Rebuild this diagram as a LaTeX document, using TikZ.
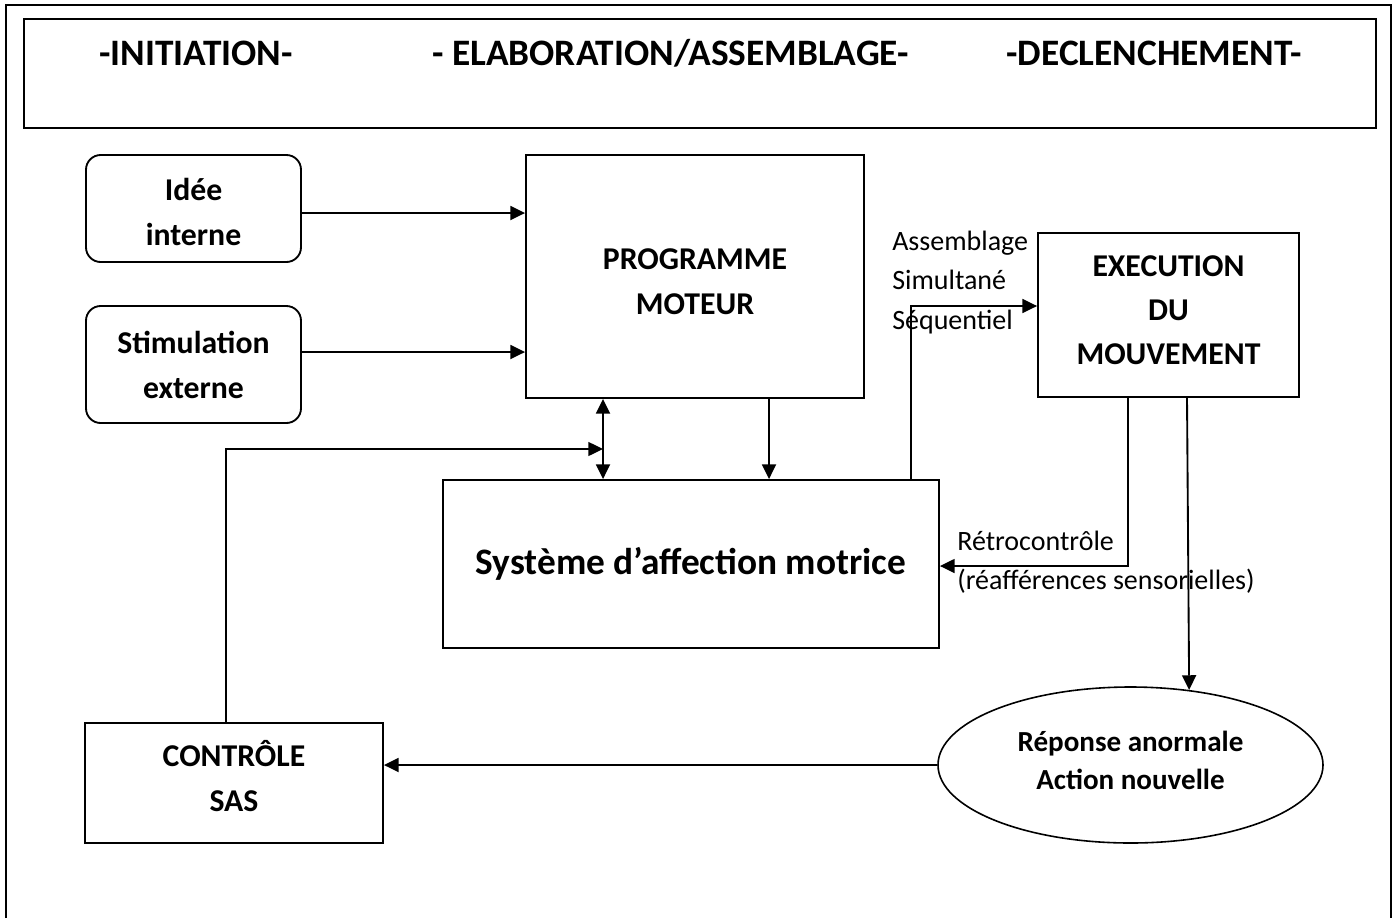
\documentclass[tikz,border=0pt]{standalone}
\usepackage{fontspec}
\setmainfont{Carlito}
\usetikzlibrary{arrows.meta,shapes.geometric}
\begin{document}
\begin{tikzpicture}[x=0.75pt,y=-0.75pt,
  line/.style={line width=1.4pt},
  arr/.style={line width=1.4pt,-{Triangle[length=11pt,width=10.5pt]}},
  arrthin/.style={line width=1.0pt,-{Triangle[length=11pt,width=10.5pt]}},
  darr/.style={line width=1.4pt,{Triangle[length=11pt,width=10.5pt]}-{Triangle[length=11pt,width=10.5pt]}},
  box/.style={draw, line width=1.4pt, inner sep=0pt},
  roundbox/.style={box, rounded corners=11pt},
  boxtext/.style={align=center, inner sep=0pt, font=\fontsize{23.8}{33.75}\selectfont\bfseries},
  title/.style={font=\fontsize{28}{32}\selectfont\bfseries, inner sep=0pt},
  note/.style={font=\fontsize{21}{29.6}\selectfont, align=left, inner sep=0pt, anchor=west},
]
\useasboundingbox (0,0) rectangle (1395,918);

% page frame and header band
\draw[line] (6,918) -- (6,5) -- (1391,5) -- (1391,918);
\node[draw, line width=1.8pt, minimum width=1014pt, minimum height=81.75pt, inner sep=0pt]
  (header) at (700,73.5) {};
\node[title] (t1) at (196,53) {-INITIATION-};
\node[title] (t2) at (670.5,53) {- ELABORATION/ASSEMBLAGE-};
\node[title] (t3) at (1154,53) {-DECLENCHEMENT-};

% boxes
\node[roundbox, minimum width=161.25pt, minimum height=80.25pt] (idee) at (193.5,208.5) {};
\node[roundbox, minimum width=161.25pt, minimum height=87.75pt] (stim) at (193.5,364.5) {};
\node[box, minimum width=253.5pt, minimum height=182.25pt] (prog) at (695,276.5) {};
\node[box, minimum width=195.75pt, minimum height=123pt] (exec) at (1168.5,315) {};
\node[box, minimum width=372pt, minimum height=126pt] (sys) at (691,564) {};
\node[box, minimum width=223.5pt, minimum height=90pt] (ctrl) at (234,783) {};
\node[draw, ellipse, line width=1.2pt, inner sep=0pt, minimum width=288.75pt, minimum height=117pt] (ell) at (1130.5,765) {};

% box texts
\node[boxtext] (ideetext) at (193.5,211.5) {Idée\\interne};
\node[boxtext] (stimtext) at (193.5,364.5) {Stimulation\\externe};
\node[boxtext] (progtext) at (695,281.5) {PROGRAMME\\MOTEUR};
\node[boxtext, font=\fontsize{23.8}{33}\selectfont\bfseries] (exectext) at (1168.5,310) {EXECUTION\\DU\\MOUVEMENT};
\node[boxtext, font=\fontsize{28}{32}\selectfont\bfseries] (systext) at (691,564) {Système d’affection motrice};
\node[boxtext] (ctrltext) at (234,776) {CONTRÔLE\\SAS};
\node[boxtext, font=\fontsize{21.8}{28.5}\selectfont\bfseries] (elltext) at (1130.5,760) {Réponse anormale\\Action nouvelle};

% side labels
\node[note] (lab1) at (892,282.5) {Assemblage\\Simultané\\Séquentiel};
\node[note] (lab2) at (957,562) {Rétrocontrôle\\(réafférences sensorielles)};

% connector routing points
\coordinate (dx) at (603,449);
\coordinate (dy) at (769,449);
\coordinate (s1) at (911,306);
\coordinate (r1) at (1128,566);
\coordinate (d1) at (1187,600);

% inputs to the motor programme
\path (idee.east) ++(0,4.5) coordinate (a1);
\draw[arr] (a1) -- (a1 -| prog.west);
\path (stim.east) ++(0,-12.5) coordinate (a2);
\draw[arr] (a2) -- (a2 -| prog.west);

% programme <-> affection system
\draw[darr] (dx |- prog.south) -- (dx |- sys.north);
\draw[arr] (dy |- prog.south) -- (dy |- sys.north);

% control loop back to the programme
\path (ctrl.north) ++(-8,0) coordinate (c1);
\draw[arrthin] (c1) |- (dx);

% assembly towards execution
\draw[arrthin] (s1 |- sys.north) |- (exec.west |- s1);

% feedback from execution
\draw[arrthin] (exec.south -| r1) |- (sys.east |- r1);
\draw[arr] (exec.south -| d1) -- (ell.52.9);

% abnormal response to control
\draw[arr] (ell.west) -- (ell.west -| ctrl.east);
\end{tikzpicture}
\end{document}
